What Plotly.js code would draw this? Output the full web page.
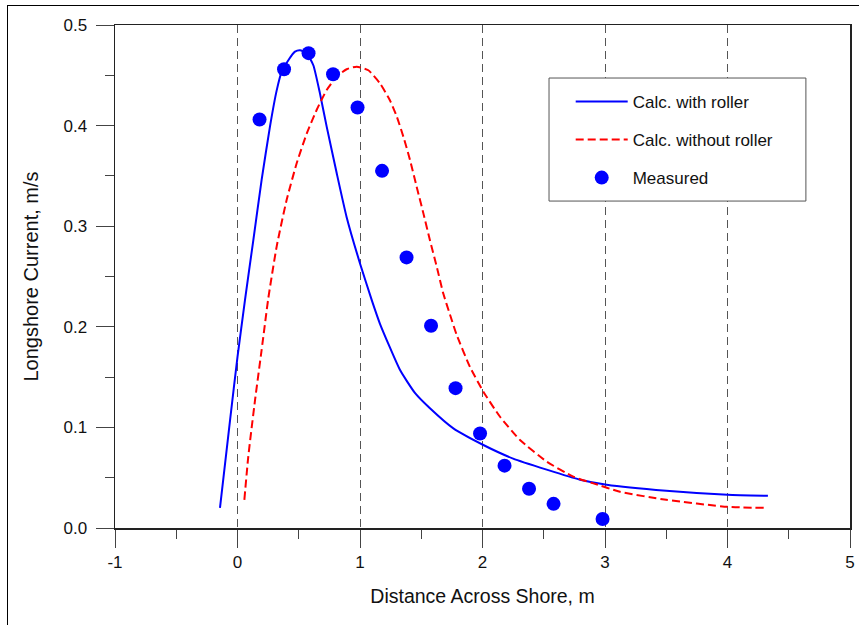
<!DOCTYPE html>
<html>
<head>
<meta charset="utf-8">
<script src="https://cdn.plot.ly/plotly-3.0.1.min.js"></script>
<style>
  html, body { margin: 0; padding: 0; background: #fff; }
  #frame { position: absolute; left: 7px; top: 5px; width: 852px; height: 620px; border-left: 1.5px solid #000; border-top: 1.5px solid #000; pointer-events: none; }
  #chart { position: absolute; left: 0; top: 0; width: 859px; height: 625px; }
</style>
</head>
<body>
<div id="chart"></div>
<div id="frame"></div>
<script>
// Calc. with roller
const withRollerX = [-0.143, -0.06, 0.0, 0.061, 0.129, 0.197, 0.265, 0.32, 0.361, 0.415, 0.469, 0.51, 0.565, 0.619, 0.673, 0.728, 0.81, 0.891, 1.0, 1.1, 1.163, 1.327, 1.45, 1.571, 1.762, 2.007, 2.25, 2.524, 2.796, 3.014, 3.5, 4.0, 4.33];
const withRollerY = [0.020, 0.108, 0.170, 0.2266, 0.286, 0.346, 0.399, 0.435, 0.4536, 0.465, 0.4735, 0.475, 0.472, 0.460, 0.432, 0.399, 0.3526, 0.309, 0.263, 0.225, 0.203, 0.157, 0.134, 0.119, 0.099, 0.0825, 0.069, 0.058, 0.048, 0.043, 0.037, 0.033, 0.032];

// Calc. without roller
const withoutRollerX = [0.056, 0.088, 0.143, 0.197, 0.251, 0.32, 0.401, 0.483, 0.565, 0.646, 0.728, 0.81, 0.891, 0.973, 1.068, 1.163, 1.245, 1.30, 1.354, 1.408, 1.463, 1.517, 1.571, 1.626, 1.68, 1.735, 1.789, 1.898, 2.007, 2.143, 2.306, 2.524, 2.741, 2.905, 3.122, 3.5, 4.0, 4.30];
const withoutRollerY = [0.028, 0.071, 0.127, 0.177, 0.228, 0.280, 0.326, 0.3625, 0.392, 0.4155, 0.4354, 0.4486, 0.456, 0.4586, 0.455, 0.442, 0.425, 0.409, 0.389, 0.366, 0.339, 0.313, 0.286, 0.260, 0.233, 0.212, 0.192, 0.160, 0.1355, 0.1106, 0.0875, 0.066, 0.051, 0.0444, 0.036, 0.028, 0.021, 0.020];

// Measured
const measuredX = [0.18, 0.38, 0.58, 0.78, 0.98, 1.18, 1.38, 1.58, 1.78, 1.98, 2.18, 2.38, 2.58, 2.98];
const measuredY = [0.406, 0.456, 0.472, 0.451, 0.418, 0.355, 0.269, 0.201, 0.139, 0.094, 0.062, 0.039, 0.024, 0.009];

const seriesNames = ["Calc. with roller", "Calc. without roller", "Measured"];
const xTickVals = [-1, 0, 1, 2, 3, 4, 5];
const xTickText = ["-1", "0", "1", "2", "3", "4", "5"];
const xTitle = "Distance Across Shore, m";
const yTitle = "Longshore Current, m/s";

const FONT = "Liberation Sans, Arial, Helvetica, sans-serif";

const traces = [
  { x: withRollerX, y: withRollerY, name: seriesNames[0], type: "scatter", mode: "lines",
    line: { color: "#0000FF", width: 2, shape: "spline", smoothing: 0.5 }, legendgroup: "a" },
  { x: withoutRollerX, y: withoutRollerY, name: seriesNames[1], type: "scatter", mode: "lines",
    line: { color: "#FF0000", width: 2, dash: "8px,4px", shape: "spline", smoothing: 0.5 }, legendgroup: "b" },
  { x: measuredX, y: measuredY, name: seriesNames[2], type: "scatter", mode: "markers",
    marker: { color: "#0000FF", size: 14 }, legendgroup: "c" }
];

const layout = {
  width: 859, height: 625,
  margin: { l: 115, r: 9, t: 25, b: 97 },
  paper_bgcolor: "#fff", plot_bgcolor: "#fff",
  font: { family: FONT, size: 17, color: "#111" },
  showlegend: true,
  legend: {
    x: 0.62, y: 0.883, xanchor: "left", yanchor: "top",
    borderwidth: 0, bgcolor: "rgba(0,0,0,0)",
    font: { family: FONT, size: 17, color: "#111" },
    tracegroupgap: 13, traceorder: "grouped",
    itemwidth: 52
  },
  shapes: [
    { type: "rect", xref: "paper", yref: "paper", x0: 0.5905, x1: 0.940, y0: 0.650, y1: 0.8946,
      line: { color: "#555", width: 1 }, fillcolor: "#fff", layer: "above" }
  ],
  xaxis: {
    range: [-1, 5], tickmode: "array", tickvals: xTickVals, ticktext: xTickText,
    showline: true, linecolor: "#222", linewidth: 1.5, mirror: true,
    ticks: "outside", ticklen: 18, tickcolor: "#444", tickwidth: 1,
    minor: { dtick: 0.5, ticks: "outside", ticklen: 9, tickcolor: "#444", showgrid: false },
    showgrid: true, gridcolor: "#555", gridwidth: 1, griddash: "8px,5px",
    zeroline: false,
    tickfont: { family: FONT, size: 17, color: "#111" },
    title: { text: xTitle, font: { family: FONT, size: 19.5, color: "#111" }, standoff: 18 }
  },
  yaxis: {
    range: [0, 0.5], dtick: 0.1, tick0: 0, tickformat: ".1f",
    showline: true, linecolor: "#222", linewidth: 1.5, mirror: true,
    ticks: "outside", ticklen: 18, tickcolor: "#444", tickwidth: 1, ticklabelstandoff: 5,
    minor: { dtick: 0.05, ticks: "outside", ticklen: 9, tickcolor: "#444", showgrid: false },
    showgrid: false, zeroline: false,
    tickfont: { family: FONT, size: 17, color: "#111" },
    title: { text: yTitle, font: { family: FONT, size: 20, color: "#111" }, standoff: 19 }
  }
};

Plotly.newPlot("chart", traces, layout, { displayModeBar: false, staticPlot: true });
</script>
</body>
</html>
